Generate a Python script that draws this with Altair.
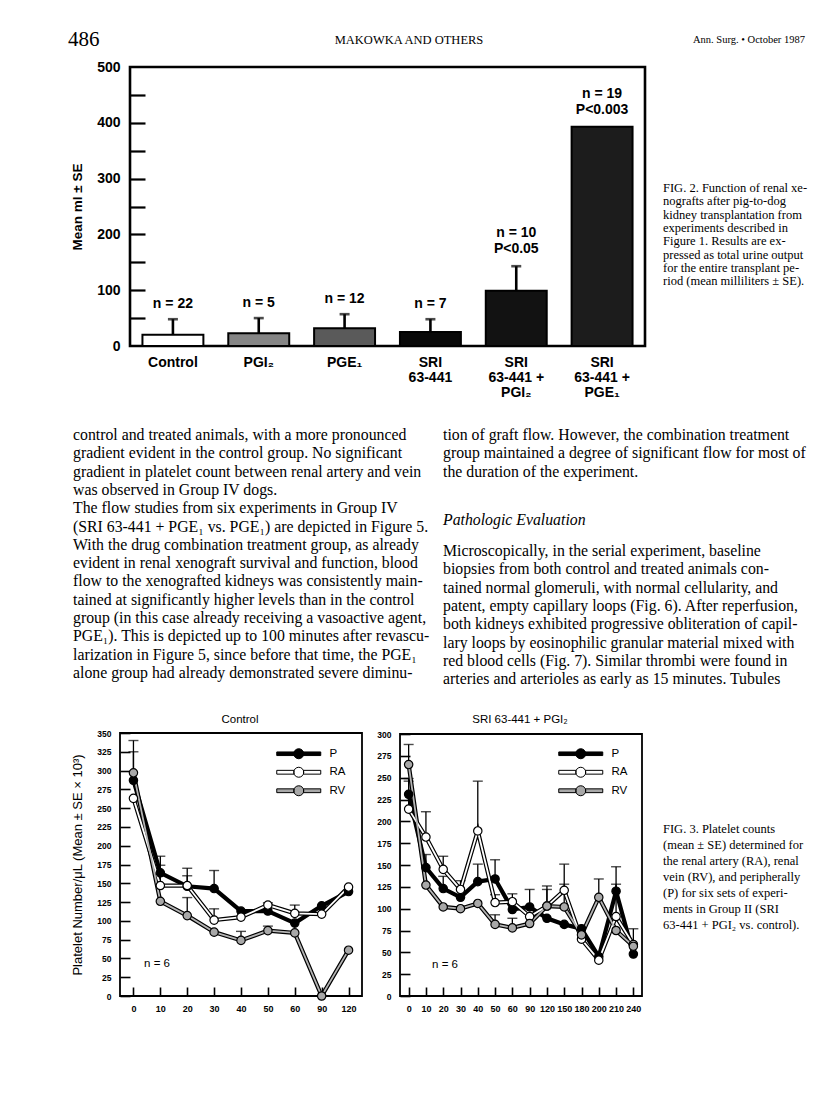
import altair as alt
import pandas as pd

W, H, M = 800, 1088, 8
SANS = "Liberation Sans"
SERIF = "Liberation Serif"


def px(v):
    return v - M


# ---------------- Fig. 2 data ----------------
bar_cats = ["Control", "PGI₂", "PGE₁", "SRI\n63-441", "SRI\n63-441 +\nPGI₂", "SRI\n63-441 +\nPGE₁"]
bar_means = [20, 23, 32, 25, 99, 393]
bar_errs = [48, 50, 57, 48, 143, None]
bar_n = ["n = 22", "n = 5", "n = 12", "n = 7", "n = 10", "n = 19"]
bar_p = ["", "", "", "", "P<0.05", "P<0.003"]
bar_fills = ["#ffffff", "#858585", "#5a5a5a", "#080808", "#121212", "#1c1c1c"]
bar_yticks_major = [0, 100, 200, 300, 400, 500]
bar_yticks_minor = [50, 100, 150, 200, 250, 300, 350, 400, 450]
bar_ytitle = "Mean ml ± SE"

# ---------------- Fig. 3 data ----------------
series = ["P", "RA", "RV"]
series_fills = ["#000000", "#ffffff", "#a8a8a8"]
inner_strokes = ["#ffffff", "#b4b4b4"]

ctrl_times = [0, 10, 20, 30, 40, 50, 60, 90, 120]
ctrl_P = [287, 164, 146, 143, 113, 113, 97, 120, 139]
ctrl_RA = [263, 147, 147, 101, 105, 121, 110, 109, 145]
ctrl_RV = [297, 126, 107, 85, 74, 87, 84, 0, 61]
ctrl_P_err = [325, 186, 160, 167, None, None, None, None, None]
ctrl_RA_err = [None, 174, 170, 116, None, 124, 121, None, None]
ctrl_RV_err = [340, None, 131, None, 86, 93, None, None, None]

sri_times = [0, 10, 20, 30, 40, 50, 60, 90, 120, 150, 180, 200, 210, 240]
sri_P = [231, 147, 123, 113, 131, 134, 99, 102, 89, 82, 77, 45, 120, 48]
sri_RA = [214, 182, 145, 122, 189, 107, 108, 91, 103, 121, 65, 41, 91, 59]
sri_RV = [265, 127, 102, 100, 106, 82, 78, 83, 103, 102, 70, 113, 75, 57]
sri_P_err = [249, 162, 137, None, 151, 156, None, 122, None, None, None, None, 148, None]
sri_RA_err = [246, 211, 160, 132, 246, 116, 117, None, 126, 151, None, None, 128, 77]
sri_RV_err = [288, None, None, None, None, 93, 89, None, 122, 128, None, 134, None, None]

ctrl_title = "Control"
sri_title = "SRI 63-441 + PGI₂"
n_label = "n = 6"
line_ytitle = "Platelet Number/μL (Mean ± SE × 10³)"

# ---------------- page text ----------------
header_left = "486"
header_mid = "MAKOWKA AND OTHERS"
header_right = "Ann. Surg. • October 1987"

fig2_caption = [
    "FIG. 2. Function of renal xe-",
    "nografts after pig-to-dog",
    "kidney transplantation from",
    "experiments described in",
    "Figure 1. Results are ex-",
    "pressed as total urine output",
    "for the entire transplant pe-",
    "riod (mean milliliters ± SE).",
]
col_left = [
    "control and treated animals, with a more pronounced",
    "gradient evident in the control group. No significant",
    "gradient in platelet count between renal artery and vein",
    "was observed in Group IV dogs.",
    "\u00a0\u00a0\u00a0The flow studies from six experiments in Group IV",
    "(SRI 63-441 + PGE₁ vs. PGE₁) are depicted in Figure 5.",
    "With the drug combination treatment group, as already",
    "evident in renal xenograft survival and function, blood",
    "flow to the xenografted kidneys was consistently main-",
    "tained at significantly higher levels than in the control",
    "group (in this case already receiving a vasoactive agent,",
    "PGE₁). This is depicted up to 100 minutes after revascu-",
    "larization in Figure 5, since before that time, the PGE₁",
    "alone group had already demonstrated severe diminu-",
]
col_right_a = [
    "tion of graft flow. However, the combination treatment",
    "group maintained a degree of significant flow for most of",
    "the duration of the experiment.",
]
col_right_head = "Pathologic Evaluation"
col_right_b = [
    "\u00a0\u00a0\u00a0Microscopically, in the serial experiment, baseline",
    "biopsies from both control and treated animals con-",
    "tained normal glomeruli, with normal cellularity, and",
    "patent, empty capillary loops (Fig. 6). After reperfusion,",
    "both kidneys exhibited progressive obliteration of capil-",
    "lary loops by eosinophilic granular material mixed with",
    "red blood cells (Fig. 7). Similar thrombi were found in",
    "arteries and arterioles as early as 15 minutes. Tubules",
]
fig3_caption = [
    "FIG. 3. Platelet counts",
    "(mean ± SE) determined for",
    "the renal artery (RA), renal",
    "vein (RV), and peripherally",
    "(P) for six sets of experi-",
    "ments in Group II (SRI",
    "63-441 + PGI₂ vs. control).",
]


# ---------------- helpers ----------------
def txt(lines, x, y, size, font=SERIF, align="left", weight="normal", style="normal",
        lh=None):
    """y is the centre of the first line."""
    if isinstance(lines, str):
        lines = [lines]
    props = dict(align=align, baseline="middle", font=font, fontSize=size,
                 fontWeight=weight, fontStyle=style, color="black")
    if len(lines) > 1:
        props.update(lineBreak="\n", lineHeight=lh)
    return alt.Chart(alt.Data(values=[{"t": "\n".join(lines)}])).mark_text(**props).encode(
        x=alt.value(px(x)), y=alt.value(px(y)), text="t:N")


def frame(x0, x1, y0, y1, sw):
    return alt.Chart(alt.Data(values=[{"f": 1}])).mark_rect(
        fillOpacity=0, stroke="black", strokeWidth=sw).encode(
        x=alt.value(px(x0)), x2=alt.value(px(x1)), y=alt.value(px(y0)), y2=alt.value(px(y1)))


# ---------------- bar panel ----------------
BX0, BX1, BY0, BY1 = 130, 645, 67, 346
bar_df = pd.DataFrame({"cat": bar_cats, "mean": bar_means, "err": bar_errs,
                       "n": bar_n, "p": bar_p})
bxs = alt.Scale(domain=bar_cats, range=[px(BX0), px(BX1)], paddingInner=0.29, paddingOuter=0.145)
bys = alt.Scale(domain=[0, 500], range=[px(BY1), px(BY0)], nice=False)
bar_xaxis = alt.Axis(orient="bottom", offset=px(BY1) - H, ticks=False, domain=False, grid=False,
                     labelAngle=0, labelExpr="split(datum.label, '\\n')", labelFont=SANS,
                     labelFontSize=14, labelFontWeight="bold", labelColor="black", labelPadding=9,
                     labelLineHeight=15, labelBaseline="top", labelOverlap=False, title=None)
bar_yaxis = alt.Axis(orient="left", offset=-px(BX0), ticks=False, domain=False, grid=False,
                     values=bar_yticks_major, labelFont=SANS, labelFontSize=14,
                     labelFontWeight="bold", labelColor="black", labelPadding=10,
                     title=bar_ytitle, titleFont=SANS, titleFontSize=13.5, titleFontWeight="bold",
                     titleColor="black", titlePadding=12)


def BX():
    return alt.X("cat:N", scale=bxs, axis=bar_xaxis)


def BY(f):
    return alt.Y(f + ":Q", scale=bys, axis=bar_yaxis)


bars = alt.Chart(bar_df).mark_bar(stroke="black", strokeWidth=2).encode(
    x=BX(), y=BY("mean"),
    fill=alt.Fill("cat:N", scale=alt.Scale(domain=bar_cats, range=bar_fills), legend=None))
bar_err = alt.Chart(bar_df).transform_filter("isValid(datum.err)")
bar_rule = bar_err.mark_rule(color="black", strokeWidth=2.6).encode(x=BX(), y=BY("mean"), y2="err:Q")
bar_cap = bar_err.mark_tick(color="black", size=10, thickness=2.6).encode(x=BX(), y=BY("err"))
lab = alt.Chart(bar_df).transform_calculate(top="isValid(datum.err) ? datum.err : datum.mean")
lab_kw = dict(baseline="bottom", font=SANS, fontSize=14, fontWeight="bold", color="black")
bar_p_text = lab.transform_filter("datum.p != ''").mark_text(dy=-10, **lab_kw).encode(
    x=BX(), y=BY("top"), text="p:N")
bar_n_text1 = lab.transform_filter("datum.p == ''").mark_text(dy=-8, **lab_kw).encode(
    x=BX(), y=BY("top"), text="n:N")
bar_n_text2 = lab.transform_filter("datum.p != ''").mark_text(dy=-26, **lab_kw).encode(
    x=BX(), y=BY("top"), text="n:N")
bar_ticks = alt.Chart(bar_df).mark_point(opacity=0).encode(
    x=BX(),
    y=alt.Y("mean:Q", scale=bys, axis=alt.Axis(
        orient="right", offset=px(BX0) - W, labels=False, domain=False, grid=False,
        values=bar_yticks_minor, tickSize=15, tickWidth=2.2, tickColor="black", title=None)))
bar_panel = alt.layer(
    alt.layer(bars, bar_rule, bar_cap, bar_p_text, bar_n_text1, bar_n_text2),
    bar_ticks).resolve_scale(y="independent")

# ---------------- line panels ----------------
LEG_LINE = "M-4.4,-0.36H4.4V0.36H-4.4Z M1,0A1,1,0,1,1,-1,0A1,1,0,1,1,1,0Z"
LEG_DOUBLE = ("M-4.4,-0.38H-0.96V0.38H-4.4Z M0.96,-0.38H4.4V0.38H0.96Z "
              "M1,0A1,1,0,1,1,-1,0A1,1,0,1,1,1,0Z")
legend_paths = [LEG_LINE, LEG_DOUBLE, LEG_DOUBLE]


def line_panel(times, vals, errs, ymax, X0, X1, Y0, Y1, legx, legy, ytitle):
    rows = []
    for s in series:
        for t, v, e in zip(times, vals[s], errs[s]):
            rows.append({"t": t, "series": s, "v": v, "err": e})
    df = pd.DataFrame(rows)
    xs = alt.Scale(type="point", domain=times, range=[px(X0), px(X1)], padding=0.5)
    ys = alt.Scale(domain=[0, ymax], range=[px(Y1), px(Y0)], nice=False)
    yvals = list(range(0, ymax + 1, 25))
    xaxis = alt.Axis(orient="bottom", offset=px(Y1) - H, ticks=False, domain=False, grid=False,
                     labelAngle=0, labelFont=SANS, labelFontSize=9, labelFontWeight="bold",
                     labelColor="black", labelPadding=8, labelOverlap=False, title=None)
    ykw = dict(orient="left", offset=-px(X0), ticks=False, domain=False, grid=False,
               values=yvals, labelFont=SANS, labelFontSize=8.5, labelFontWeight="bold",
               labelColor="black", labelPadding=9)
    if ytitle:
        ykw.update(title=ytitle, titleFont=SANS, titleFontSize=13, titleFontWeight="normal",
                   titleColor="black", titlePadding=12)
    else:
        ykw.update(title=None)
    yaxis = alt.Axis(**ykw)

    def X():
        return alt.X("t:O", scale=xs, axis=xaxis)

    def Y(f):
        return alt.Y(f + ":Q", scale=ys, axis=yaxis)

    fill_scale = alt.Scale(domain=series, range=series_fills)
    leg = alt.Legend(orient="none", legendX=legx, legendY=legy, title=None, symbolSize=100,
                     symbolStrokeWidth=1, symbolStrokeColor="black", labelFont=SANS,
                     labelFontSize=11.5, labelColor="black", labelOffset=25, rowPadding=3.5,
                     padding=0)
    base = alt.Chart(df)
    err = base.transform_filter("isValid(datum.err)")
    rule = err.mark_rule(color="black", strokeWidth=1.3).encode(x=X(), y=Y("v"), y2="err:Q")
    cap = err.mark_tick(color="black", size=10, thickness=1.4).encode(x=X(), y=Y("err"))
    outer = base.mark_line(color="black", strokeWidth=4.2).encode(
        x=X(), y=Y("v"), detail="series:N")
    inner = base.transform_filter("datum.series != 'P'").mark_line(strokeWidth=1.8).encode(
        x=X(), y=Y("v"),
        stroke=alt.Stroke("series:N", scale=alt.Scale(domain=["RA", "RV"], range=inner_strokes),
                          legend=None))
    pts = base.mark_circle(size=70, opacity=1, stroke="black", strokeWidth=1.2).encode(
        x=X(), y=Y("v"), fill=alt.Fill("series:N", scale=fill_scale, legend=leg))
    legend_layer = base.transform_filter("datum.series == 'none'").mark_point(
        filled=True, opacity=1, stroke="black", strokeWidth=1).encode(
        x=X(), y=Y("v"),
        fill=alt.Fill("series:N", scale=fill_scale, legend=leg),
        shape=alt.Shape("series:N", scale=alt.Scale(domain=series, range=legend_paths),
                        legend=leg))
    main = alt.layer(rule, cap, outer, inner, pts, legend_layer)
    ticks = base.mark_point(opacity=0).encode(
        x=alt.X("t:O", scale=xs, axis=alt.Axis(
            orient="top", offset=-px(Y1), labels=False, domain=False, grid=False,
            tickSize=9, tickWidth=1.6, tickColor="black", title=None)),
        y=alt.Y("v:Q", scale=ys, axis=alt.Axis(
            orient="right", offset=px(X0) - W, labels=False, domain=False, grid=False,
            values=yvals, tickSize=10, tickWidth=1.6, tickColor="black", title=None)))
    return alt.layer(main, ticks).resolve_scale(x="independent", y="independent")


C1 = (120, 362, 733, 996)
C2 = (400, 642, 734, 996)
ctrl_panel = line_panel(
    ctrl_times, {"P": ctrl_P, "RA": ctrl_RA, "RV": ctrl_RV},
    {"P": ctrl_P_err, "RA": ctrl_RA_err, "RV": ctrl_RV_err},
    350, *C1, legx=293 - M, legy=748 - M, ytitle=line_ytitle)
sri_panel = line_panel(
    sri_times, {"P": sri_P, "RA": sri_RA, "RV": sri_RV},
    {"P": sri_P_err, "RA": sri_RA_err, "RV": sri_RV_err},
    300, *C2, legx=575 - M, legy=748 - M, ytitle=None)

# ---------------- assemble ----------------
layers = [
    txt(header_left, 68, 40, 21),
    txt(header_mid, 409, 40, 12.5, align="center"),
    txt(header_right, 805, 40, 10.5, align="right"),
    frame(BX0, BX1, BY0, BY1, 2.6),
    bar_panel,
    txt(fig2_caption, 663, 188, 12.5, lh=13.3),
    txt(col_left, 73, 435, 15.8, lh=18.3),
    txt(col_right_a, 443, 435, 15.8, lh=18.3),
    txt(col_right_head, 443, 520, 15.8, style="italic"),
    txt(col_right_b, 443, 551, 15.8, lh=18.3),
    frame(*C1, 1.8),
    frame(*C2, 1.8),
    ctrl_panel,
    sri_panel,
    txt(ctrl_title, 240, 720, 11.5, font=SANS, align="center"),
    txt(sri_title, 520, 720, 11.5, font=SANS, align="center"),
    txt(n_label, 157, 964, 11.5, font=SANS, align="center"),
    txt(n_label, 445, 965, 11.5, font=SANS, align="center"),
    txt(fig3_caption, 663, 829, 12.5, lh=16),
]

chart = alt.layer(*layers).resolve_scale(
    x="independent", y="independent", fill="independent", stroke="independent",
    shape="independent").properties(
    width=W, height=H, padding=0, background="white",
    autosize=alt.AutoSizeParams(type="none")).configure_view(stroke="transparent")

chart.save("out.html", embed_options={"renderer": "svg", "actions": False})
